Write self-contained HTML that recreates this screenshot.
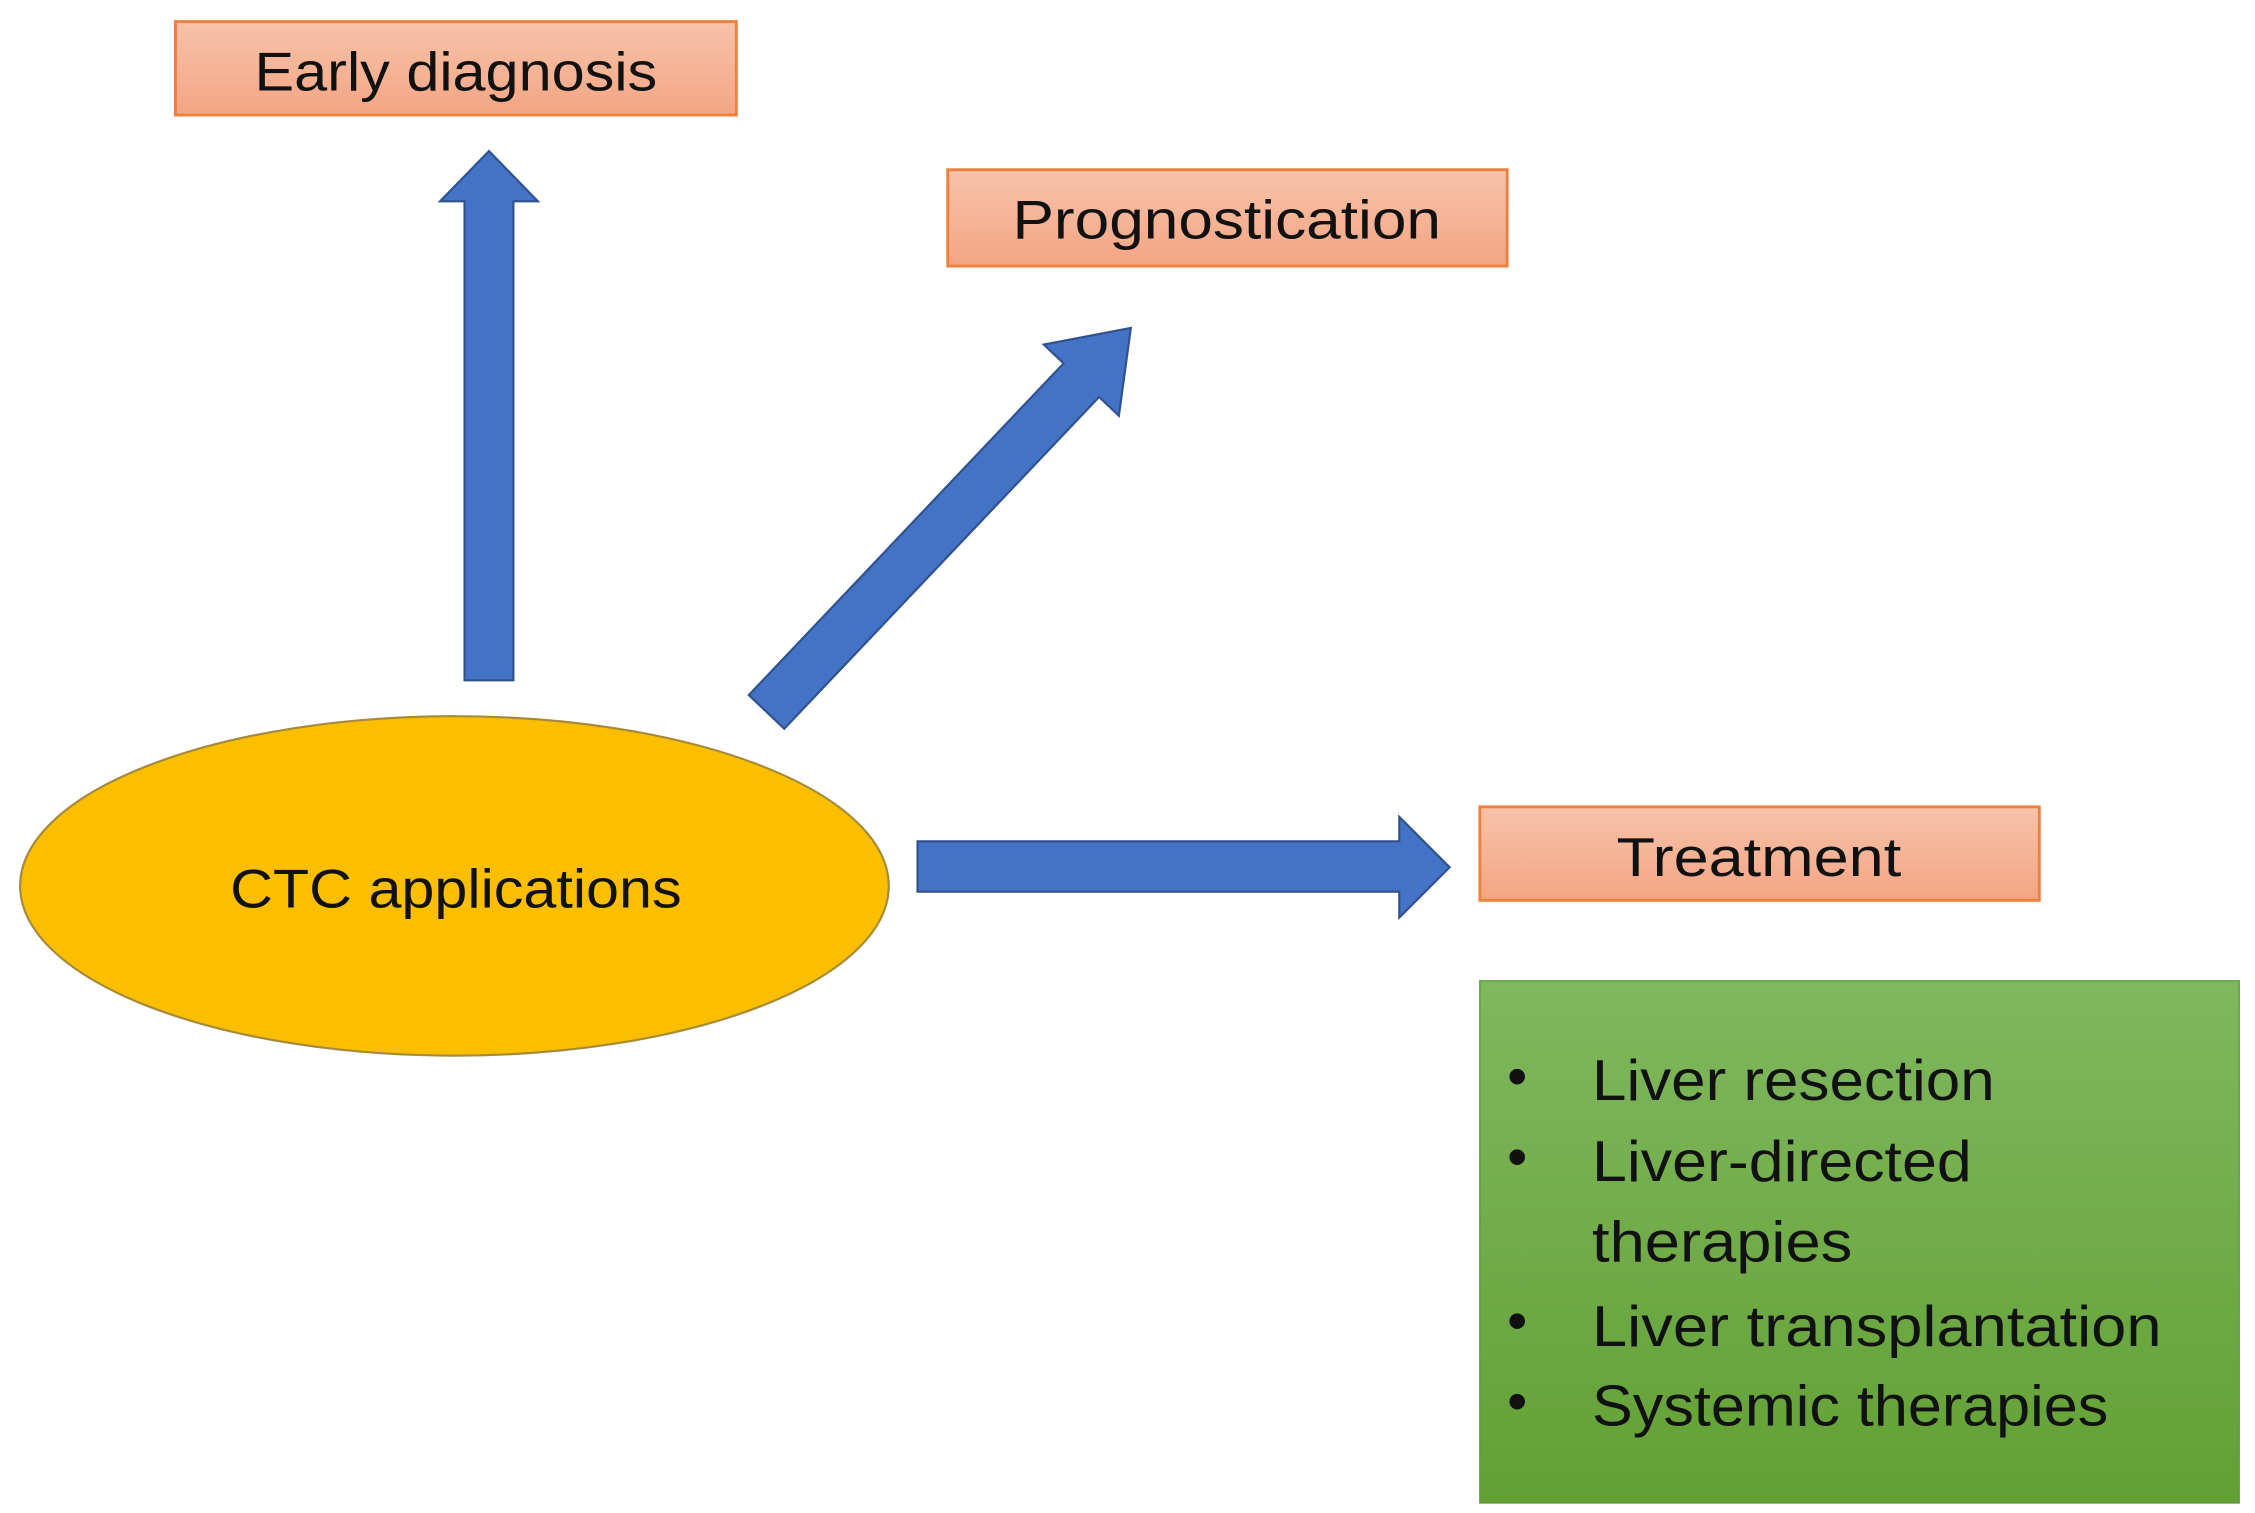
<!DOCTYPE html>
<html><head><meta charset="utf-8"><style>
html,body{margin:0;padding:0;background:#fff;}
svg{display:block;}
text{font-family:"Liberation Sans",sans-serif;fill:#111;}
</style></head><body>
<svg width="2255" height="1513" viewBox="0 0 1568 1052" preserveAspectRatio="none" xmlns="http://www.w3.org/2000/svg">
<defs>
<linearGradient id="og" x1="0" y1="0" x2="0" y2="1"><stop offset="0" stop-color="#f7c3aa"/><stop offset="1" stop-color="#f3a583"/></linearGradient>
<linearGradient id="gg" x1="0" y1="0" x2="0" y2="1"><stop offset="0" stop-color="#80b85e"/><stop offset="1" stop-color="#62a033"/></linearGradient>
</defs>
<rect x="122" y="15" width="390" height="65" fill="url(#og)" stroke="#f07f3c" stroke-width="2"/>
<text x="317" y="63" font-size="38" text-anchor="middle" textLength="280" lengthAdjust="spacingAndGlyphs">Early diagnosis</text>
<rect x="659" y="118" width="389" height="67" fill="url(#og)" stroke="#f07f3c" stroke-width="2"/>
<text x="853" y="166" font-size="38" text-anchor="middle" textLength="298" lengthAdjust="spacingAndGlyphs">Prognostication</text>
<rect x="1029" y="561" width="389" height="65" fill="url(#og)" stroke="#f07f3c" stroke-width="2"/>
<text x="1223" y="609" font-size="38" text-anchor="middle" textLength="198" lengthAdjust="spacingAndGlyphs">Treatment</text>
<rect x="1029" y="682" width="528" height="363" fill="url(#gg)" stroke="#5f9a3a" stroke-width="1"/>
<g font-size="40">
<text x="1048" y="762">•</text>
<text x="1107" y="765" textLength="280" lengthAdjust="spacingAndGlyphs">Liver resection</text>
<text x="1048" y="818">•</text>
<text x="1107" y="821" textLength="264" lengthAdjust="spacingAndGlyphs">Liver-directed</text>
<text x="1107" y="877" textLength="181" lengthAdjust="spacingAndGlyphs">therapies</text>
<text x="1048" y="932">•</text>
<text x="1107" y="936" textLength="396" lengthAdjust="spacingAndGlyphs">Liver transplantation</text>
<text x="1048" y="988">•</text>
<text x="1107" y="991" textLength="359" lengthAdjust="spacingAndGlyphs">Systemic therapies</text>
</g>
<ellipse cx="316" cy="616" rx="302" ry="118" fill="#fcbf00" stroke="#a58a3a" stroke-width="1.5"/>
<text x="317" y="631" font-size="38" text-anchor="middle" textLength="314" lengthAdjust="spacingAndGlyphs">CTC applications</text>
<polygon points="323,473 357,473 357,140 374,140 340,105 306,140 323,140" fill="#4472c4" stroke="#2f528f" stroke-width="1.5"/>
<polygon points="638,585 973,585 973,568 1008,603 973,638 973,620 638,620" fill="#4472c4" stroke="#2f528f" stroke-width="1.5"/>
<g transform="translate(533,495) rotate(-46.5)">
<polygon points="0,-17 318,-17 318,-36 368,0 318,36 318,17 0,17" fill="#4472c4" stroke="#2f528f" stroke-width="1.5"/>
</g>
</svg>
</body></html>
